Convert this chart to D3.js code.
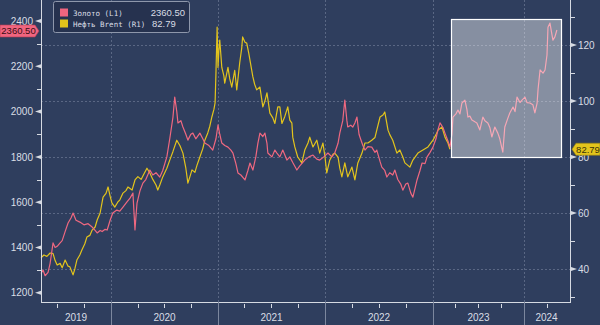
<!DOCTYPE html>
<html><head><meta charset="utf-8">
<script src="https://cdn.jsdelivr.net/npm/d3@7"></script>
<style>
html,body{margin:0;padding:0;background:#2f3e5e;}
svg{display:block;}
</style></head>
<body>
<svg id="c" width="600" height="325"></svg>
<script>
// ---- data ----
const goldSeries = [
["2019-05-08",1285],["2019-05-15",1300],["2019-05-22",1275],["2019-06-01",1290],["2019-06-08",1330],["2019-06-18",1420],["2019-06-25",1400],["2019-07-02",1405],["2019-07-12",1420],["2019-07-19",1430],["2019-07-29",1470],["2019-08-08",1508],["2019-08-18",1530],["2019-08-25",1552],["2019-09-04",1520],["2019-09-17",1512],["2019-10-01",1500],["2019-10-15",1505],["2019-10-29",1490],["2019-11-08",1475],["2019-11-15",1464],["2019-11-25",1475],["2019-12-02",1470],["2019-12-12",1480],["2019-12-19",1477],["2019-12-29",1520],
["2020-01-07",1552],["2020-01-21",1565],["2020-01-31",1560],["2020-02-11",1578],["2020-02-24",1600],["2020-03-06",1618],["2020-03-16",1640],["2020-03-23",1477],["2020-03-26",1530],["2020-03-30",1596],["2020-04-09",1650],["2020-04-19",1684],["2020-04-29",1700],["2020-05-13",1742],["2020-05-23",1720],["2020-06-03",1730],["2020-06-16",1711],["2020-06-26",1740],["2020-07-10",1800],["2020-07-20",1880],["2020-07-31",1976],["2020-08-06",2064],["2020-08-13",2000],["2020-08-17",1950],["2020-08-27",1960],["2020-09-03",1932],["2020-09-13",1900],["2020-09-20",1874],["2020-09-30",1900],["2020-10-07",1905],["2020-10-17",1880],["2020-10-31",1905],["2020-11-10",1880],["2020-11-17",1861],["2020-12-01",1850],["2020-12-14",1830],["2020-12-25",1880],
["2021-01-01",1941],["2021-01-07",1900],["2021-01-14",1861],["2021-01-24",1850],["2021-02-04",1843],["2021-02-14",1830],["2021-02-21",1817],["2021-03-03",1770],["2021-03-10",1729],["2021-03-20",1720],["2021-04-03",1698],["2021-04-13",1740],["2021-04-20",1773],["2021-04-30",1742],["2021-05-10",1800],["2021-05-17",1860],["2021-05-24",1905],["2021-06-03",1890],["2021-06-10",1905],["2021-06-17",1860],["2021-06-20",1817],["2021-07-04",1800],["2021-07-14",1830],["2021-07-21",1817],["2021-07-31",1800],["2021-08-10",1830],["2021-08-24",1786],["2021-09-03",1800],["2021-09-13",1775],["2021-09-27",1742],["2021-10-07",1760],["2021-10-24",1786],["2021-11-07",1800],["2021-11-21",1808],["2021-12-04",1790],["2021-12-14",1786],["2021-12-28",1800],
["2022-01-11",1817],["2022-01-24",1800],["2022-02-03",1817],["2022-02-14",1860],["2022-02-20",1905],["2022-03-02",1960],["2022-03-09",2051],["2022-03-16",1960],["2022-03-19",1932],["2022-03-29",1940],["2022-04-05",1932],["2022-04-12",1950],["2022-04-19",1976],["2022-04-26",1900],["2022-04-29",1888],["2022-05-09",1850],["2022-05-16",1830],["2022-05-26",1845],["2022-06-08",1843],["2022-06-19",1820],["2022-06-25",1830],["2022-07-06",1780],["2022-07-12",1755],["2022-07-22",1740],["2022-07-29",1711],["2022-08-08",1730],["2022-08-18",1720],["2022-08-25",1742],["2022-09-04",1700],["2022-09-14",1680],["2022-09-21",1653],["2022-10-01",1680],["2022-10-08",1684],["2022-10-18",1640],["2022-10-25",1622],["2022-11-01",1660],["2022-11-08",1698],["2022-11-18",1740],["2022-11-25",1773],["2022-12-05",1770],["2022-12-12",1800],["2022-12-22",1820],
["2023-01-01",1843],["2023-01-13",1880],["2023-01-21",1920],["2023-01-29",1950],["2023-02-10",1930],["2023-02-18",1905],["2023-03-02",1870],["2023-03-10",1843],["2023-03-18",1900],["2023-03-22",1976],["2023-04-03",1990],["2023-04-11",2007],["2023-04-19",1990],["2023-04-27",2038],["2023-05-09",2051],["2023-05-17",2010],["2023-05-21",1976],["2023-05-29",1980],["2023-06-06",1963],["2023-06-18",1955],["2023-06-26",1950],["2023-07-08",1919],["2023-07-20",1976],["2023-07-28",1960],["2023-08-09",1950],["2023-08-17",1930],["2023-08-25",1888],["2023-09-06",1932],["2023-09-18",1905],["2023-09-26",1880],["2023-10-04",1840],["2023-10-08",1821],["2023-10-16",1932],["2023-10-28",1970],["2023-11-05",1994],["2023-11-18",2020],["2023-11-26",2000],["2023-12-04",2064],["2023-12-16",2040],["2023-12-24",2051],
["2024-01-05",2064],["2024-01-13",2040],["2024-01-25",2038],["2024-02-06",2030],["2024-02-14",1994],["2024-02-23",2038],["2024-02-27",2100],["2024-03-06",2184],["2024-03-18",2170],["2024-03-26",2184],["2024-04-03",2250],["2024-04-07",2373],["2024-04-15",2391],["2024-04-23",2340],["2024-04-27",2316],["2024-05-05",2330],["2024-05-13",2360.5]
];
const brentSeries = [
["2019-05-08",44],["2019-05-18",45],["2019-05-28",44.5],["2019-06-08",45.7],["2019-06-18",45.5],["2019-06-25",43],["2019-07-02",41.4],["2019-07-12",42],["2019-07-19",40.4],["2019-07-29",43.2],["2019-08-08",41],["2019-08-14",40.8],["2019-08-25",37.9],["2019-08-31",40],["2019-09-07",43.2],["2019-09-17",45],["2019-09-24",46.8],["2019-10-04",49],["2019-10-11",51.4],["2019-10-21",52],["2019-10-29",53.9],["2019-11-08",55],["2019-11-15",57.5],["2019-11-25",60],["2019-12-05",65.7],["2019-12-15",67],["2019-12-22",69.3],["2019-12-29",66],
["2020-01-04",63.6],["2020-01-14",62.1],["2020-01-25",64],["2020-01-31",64.6],["2020-02-11",67.1],["2020-02-21",68],["2020-02-28",69.3],["2020-03-13",68.2],["2020-03-23",71.8],["2020-04-02",73],["2020-04-13",72],["2020-04-23",74],["2020-05-03",76],["2020-05-13",74.3],["2020-05-23",72],["2020-06-03",70],["2020-06-09",68.2],["2020-06-16",70],["2020-06-26",72.9],["2020-07-10",76],["2020-07-20",78.9],["2020-07-31",82],["2020-08-13",86],["2020-08-24",84],["2020-09-03",81.4],["2020-09-13",76],["2020-09-20",70.7],["2020-09-27",73],["2020-10-04",75.4],["2020-10-14",74.5],["2020-10-21",77],["2020-10-31",80],["2020-11-10",83],["2020-11-17",86],["2020-11-27",88.6],["2020-12-04",91],["2020-12-11",94.3],["2020-12-18",97],["2020-12-22",99.3],["2020-12-25",110],["2020-12-29",126.4],
["2021-01-01",112],["2021-01-04",118],["2021-01-07",121.8],["2021-01-14",112],["2021-01-21",109],["2021-01-24",106.4],["2021-01-31",110],["2021-02-04",112],["2021-02-10",108],["2021-02-17",105],["2021-02-27",111],["2021-03-06",104],["2021-03-16",113.6],["2021-03-23",119],["2021-03-26",122.9],["2021-04-03",121],["2021-04-09",120.7],["2021-04-16",117],["2021-04-20",114.6],["2021-04-30",108.6],["2021-05-06",106],["2021-05-13",104],["2021-05-24",105],["2021-06-03",97.9],["2021-06-10",100],["2021-06-17",102.9],["2021-06-27",95.7],["2021-07-07",94],["2021-07-14",92],["2021-07-24",97.9],["2021-07-31",97.9],["2021-08-07",92],["2021-08-17",94.5],["2021-08-27",97.9],["2021-09-03",93.2],["2021-09-10",92.1],["2021-09-13",87.1],["2021-09-20",83.6],["2021-09-30",80],["2021-10-14",77.9],["2021-10-24",82.5],["2021-11-04",85],["2021-11-10",87.1],["2021-11-21",83.6],["2021-12-04",86],["2021-12-14",81.4],["2021-12-25",85],
["2022-01-01",80],["2022-01-07",74.3],["2022-01-17",78.9],["2022-01-28",81],["2022-02-03",81.4],["2022-02-14",80],["2022-02-20",76],["2022-02-27",72.9],["2022-03-09",77.9],["2022-03-19",72.9],["2022-04-02",76.4],["2022-04-12",71.8],["2022-04-22",77.9],["2022-05-06",81.4],["2022-05-16",85],["2022-05-26",85],["2022-06-08",86],["2022-06-19",87],["2022-06-25",89.6],["2022-07-06",94.3],["2022-07-16",95],["2022-07-22",96.1],["2022-08-02",89.6],["2022-08-08",88],["2022-08-18",86],["2022-09-01",81.4],["2022-09-11",82.5],["2022-09-21",80],["2022-09-28",77.9],["2022-10-15",76.4],["2022-10-25",78.9],["2022-11-11",81.4],["2022-11-28",82.5],["2022-12-15",83.6],
["2023-01-01",86],["2023-01-13",88],["2023-01-21",89.6],["2023-02-06",90.7],["2023-02-18",87.1],["2023-03-02",85],["2023-03-10",82.79]
];
const goldTicks = [1200,1400,1600,1800,2000,2200,2400];
const goldMinor = [1300,1500,1700,1900,2100,2300];
const brentTicks = [40,60,80,100,120];
const brentMinor = [30,50,70,90,110,130];
const yearLabels = ["2019","2020","2021","2022","2023","2024"];
const legendItems = [
  {name:"Золото (L1)", value:"2360.50", color:"#f0657f"},
  {name:"Нефть Brent (R1)", value:"82.79", color:"#e0c21b"}
];

// ---- layout ----
const parse = d3.timeParse("%Y-%m-%d");
const L = 41, R = 570, T = 0, B = 302;
const bg = "#2f3e5e", axisCol = "#d6dae2", gridCol = "#5a6784", textCol = "#d9dde5";
const sans = "Liberation Sans, Arial, sans-serif";
const svg = d3.select("#c");
svg.append("rect").attr("width",600).attr("height",325).attr("fill",bg);

const yearStarts = yearLabels.map(y => parse(y+"-01-01"));
const x = d3.scaleTime()
  .domain([parse("2019-05-08"), ...yearStarts.slice(1), parse("2024-07-01")])
  .range([L, 111, 218, 325, 433, 524, R-1]);
const yL = d3.scaleLinear().domain([1159, 2493]).range([B, T]);
const yR = d3.scaleLinear().domain([28.2, 136.1]).range([B, T]);

// grid
const grid = svg.append("g").attr("stroke", gridCol).attr("stroke-dasharray","2,2").attr("stroke-width",1);
grid.selectAll("line.h").data(brentTicks).join("line")
  .attr("x1",L).attr("x2",R).attr("y1",d=>Math.round(yR(d))+0.5).attr("y2",d=>Math.round(yR(d))+0.5);
grid.selectAll("line.v").data(yearStarts.slice(1)).join("line")
  .attr("y1",T).attr("y2",B).attr("x1",d=>Math.round(x(d))+0.5).attr("x2",d=>Math.round(x(d))+0.5);

// lines
const lineG = d3.line().x(d=>x(parse(d[0]))).y(d=>yL(d[1]));
const lineB = d3.line().x(d=>x(parse(d[0]))).y(d=>yR(d[1]));
svg.append("path").datum(brentSeries).attr("d",lineB).attr("fill","none")
  .attr("stroke","#e3c41c").attr("stroke-width",1.2).attr("stroke-linejoin","round");
svg.append("path").datum(goldSeries).attr("d",lineG).attr("fill","none")
  .attr("stroke","#ef6880").attr("stroke-width",1.2).attr("stroke-linejoin","round");

// overlay box
svg.append("rect").attr("x",451.5).attr("y",19.5).attr("width",110).attr("height",138)
  .attr("fill","#ffffff").attr("fill-opacity",0.42).attr("stroke","#ffffff").attr("stroke-width",1.2);

// axes lines
svg.append("line").attr("x1",L+0.5).attr("x2",L+0.5).attr("y1",0).attr("y2",B).attr("stroke",axisCol);
svg.append("line").attr("x1",R+0.5).attr("x2",R+0.5).attr("y1",0).attr("y2",B).attr("stroke",axisCol);
svg.append("line").attr("x1",L).attr("x2",R+1).attr("y1",B+0.5).attr("y2",B+0.5).attr("stroke",axisCol);

// left axis
const axL = svg.append("g").attr("transform",`translate(${L-7},0)`)
  .call(d3.axisLeft(yL).tickValues(goldTicks).tickFormat(d3.format("d")).tickSize(0).tickPadding(1));
axL.select(".domain").remove();
axL.selectAll("text").attr("fill",textCol).attr("font-family",sans).attr("font-size","10px");
svg.selectAll("path.tl").data(goldTicks).join("path").attr("class","tl")
  .attr("d",d=>{const y=yL(d);return `M${L},${y-2} L${L},${y+2} L${L-6},${y} Z`;}).attr("fill",axisCol);
svg.selectAll("line.tlm").data(goldMinor).join("line").attr("class","tlm")
  .attr("x1",L-4).attr("x2",L).attr("y1",d=>Math.round(yL(d))+0.5).attr("y2",d=>Math.round(yL(d))+0.5).attr("stroke",axisCol);

// right axis
const axR = svg.append("g").attr("transform",`translate(${R+8},0)`)
  .call(d3.axisRight(yR).tickValues(brentTicks).tickFormat(d3.format("d")).tickSize(0).tickPadding(0));
axR.select(".domain").remove();
axR.selectAll("text").attr("fill",textCol).attr("font-family",sans).attr("font-size","10px");
svg.selectAll("path.tr").data(brentTicks).join("path").attr("class","tr")
  .attr("d",d=>{const y=yR(d);return `M${R+1},${y-2} L${R+1},${y+2} L${R+7},${y} Z`;}).attr("fill",axisCol);
svg.selectAll("line.trm").data(brentMinor).join("line").attr("class","trm")
  .attr("x1",R+1).attr("x2",R+5).attr("y1",d=>Math.round(yR(d))+0.5).attr("y2",d=>Math.round(yR(d))+0.5).attr("stroke",axisCol);

// x axis: quarter ticks, year separators, labels
const domainX = x.domain();
const quarters = d3.timeMonth.every(3).range(domainX[0], domainX[domainX.length-1])
  .filter(d=>d.getMonth()!==0);
svg.selectAll("line.q").data(quarters).join("line").attr("class","q")
  .attr("x1",d=>Math.round(x(d))+0.5).attr("x2",d=>Math.round(x(d))+0.5)
  .attr("y1",B+2).attr("y2",B+6).attr("stroke",axisCol);
svg.selectAll("line.ys").data(yearStarts.slice(1)).join("line").attr("class","ys")
  .attr("x1",d=>Math.round(x(d))+0.5).attr("x2",d=>Math.round(x(d))+0.5)
  .attr("y1",B).attr("y2",325).attr("stroke","#7c879e").attr("stroke-width",1);
const bounds = [domainX[0], ...yearStarts.slice(1), domainX[domainX.length-1]];
svg.selectAll("text.yr").data(yearLabels).join("text").attr("class","yr")
  .attr("x",(d,i)=>(x(bounds[i])+x(bounds[i+1]))/2).attr("y",321)
  .attr("text-anchor","middle").attr("fill",textCol)
  .attr("font-family",sans).attr("font-size","10px").text(d=>d);

// last value tags
const lastG = goldSeries[goldSeries.length-1][1];
const lastB = brentSeries[brentSeries.length-1][1];
const yg = yL(lastG) + 1;
svg.append("path").attr("d",`M0,${yg-6} L35,${yg-6} L39,${yg} L35,${yg+6} L0,${yg+6} Z`)
  .attr("fill","#f0657f").attr("stroke","#b83a52").attr("stroke-width",0.6);
svg.append("text").attr("x",18.5).attr("y",yg+3.3).attr("text-anchor","middle")
  .attr("font-family",sans).attr("font-size","9.5px").attr("fill","#3a0c14")
  .text(d3.format(".2f")(lastG));
const yb = yR(lastB);
svg.append("path").attr("d",`M572,${yb} L576,${yb-6} L600,${yb-6} L600,${yb+6} L576,${yb+6} Z`)
  .attr("fill","#e3c41c").attr("stroke","#9c8510").attr("stroke-width",0.6);
svg.append("text").attr("x",588).attr("y",yb+3.3).attr("text-anchor","middle")
  .attr("font-family",sans).attr("font-size","9.5px").attr("fill","#3a3208")
  .text(d3.format(".2f")(lastB));

// legend
const lg = svg.append("g");
lg.append("rect").attr("x",53.5).attr("y",1.5).attr("width",136).attr("height",31).attr("rx",2)
  .attr("fill","#26324f").attr("stroke","#8e97ab").attr("stroke-width",1);
legendItems.forEach((it,i)=>{
  const yy = 13 + i*11;
  lg.append("rect").attr("x",60).attr("y",yy-4.5).attr("width",8).attr("height",8).attr("fill",it.color);
  lg.append("text").attr("x",73).attr("y",yy+3).attr("fill",textCol)
    .attr("font-family","DejaVu Sans Mono, monospace").attr("font-size","7.5px").text(it.name);
  lg.append("text").attr("x",i===0?185:152).attr("y",yy+3).attr("text-anchor",i===0?"end":"start").attr("fill",textCol)
    .attr("font-family",sans).attr("font-size","9.5px").text(it.value);
});
</script>
</body></html>
